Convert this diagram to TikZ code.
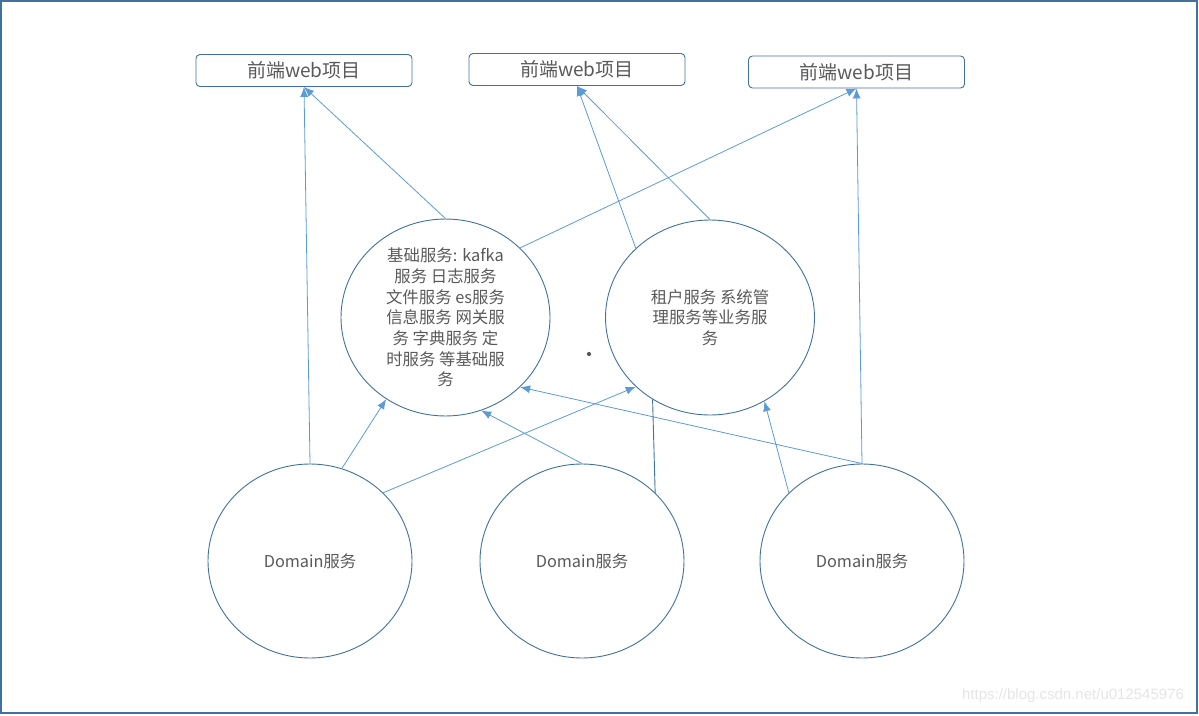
\documentclass[tikz,border=0pt]{standalone}
\usepackage{fontspec}
\setmainfont{Noto Sans CJK SC}
\newfontfamily\wmfont{Liberation Sans}
\usepackage{tikz}
\usetikzlibrary{arrows.meta,shapes.geometric}
\definecolor{edgeblue}{HTML}{41719C}
\definecolor{linkblue}{HTML}{5B9BD5}
\definecolor{textgray}{HTML}{595959}

\begin{document}
\begin{tikzpicture}[
        x=1pt, y=-1pt,
        >={Latex[length=10pt,width=8pt]},
        web/.style={rectangle, rounded corners=4pt, draw=edgeblue, line width=0.9pt, text=textgray, minimum width=216pt, minimum height=32pt, inner sep=0pt, font=\fontsize{19}{22}\selectfont},
        service/.style={ellipse, draw=edgeblue, line width=0.9pt, text=textgray, minimum width=209pt, minimum height=195pt, inner sep=0pt, align=center, font=\fontsize{16.4}{20.7}\selectfont},
        dombox/.style={ellipse, draw=edgeblue, line width=0.9pt, text=textgray, minimum width=204pt, minimum height=194pt, inner sep=0pt, font=\fontsize{16.3}{20}\selectfont},
        arrow/.style={->, draw=linkblue, line width=0.8pt},
        link/.style={draw=edgeblue, line width=0.9pt}
    ]
        \useasboundingbox (0,0) rectangle (1199,715);
        \draw[edgeblue, line width=1.4pt] (1,1) rectangle (1197,713);

        \node[web] (web1) at (304,70.5) {前端web项目};
        \node[web] (web2) at (577,69.5) {前端web项目};
        \node[web] (web3) at (856.5,72) {前端web项目};

        \node[service] (base) at (445.5,317.5) {基础服务: kafka\\服务 日志服务\\文件服务 es服务\\信息服务 网关服\\务 字典服务 定\\时服务 等基础服\\务};
        \node[service] (tenant) at (710,317.5) {租户服务 系统管\\理服务等业务服\\务};
        \node[circle, fill=textgray, inner sep=1.5pt] (dot) at (589,354) {};

        \node[dombox] (dom1) at (310,561) {Domain服务};
        \node[dombox] (dom2) at (582,561) {Domain服务};
        \node[dombox] (dom3) at (862,561) {Domain服务};

        \node[text=black!10, font=\wmfont\fontsize{15}{18}\selectfont] (mark) at (1073,696) {https://blog.csdn.net/u012545976};

        \draw[arrow] (dom1.north) -- (web1.south);
        \draw[arrow] (base.north) -- (web1.south);
        \draw[arrow] (base.43) -- (web3.south);
        \draw[arrow] (tenant.137) -- (web2.south);
        \draw[arrow] (tenant.north) -- (web2.south);
        \draw[arrow] (dom3.north) -- (web3.south);
        \draw[arrow] (dom1.71) -- (base.234);
        \draw[arrow] (dom1.43) -- (tenant.223);
        \draw[arrow] (dom2.north) -- (base.291);
        \draw[arrow] (dom3.north) -- (base.317);
        \draw[arrow] (dom3.137) -- (tenant.303);
        \draw[link] (tenant.235) -- (dom2.43);
    \end{tikzpicture}
\end{document}
